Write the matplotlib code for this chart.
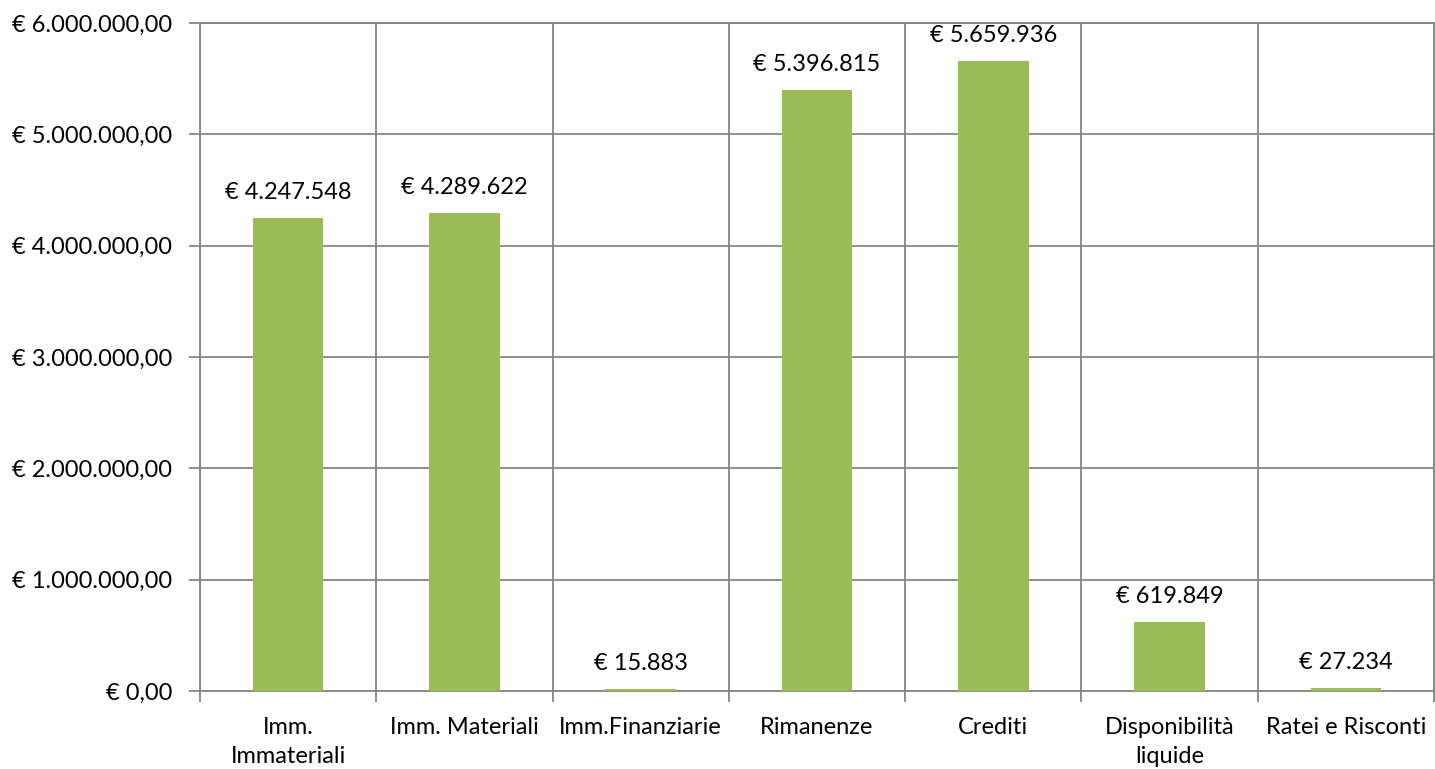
import matplotlib
matplotlib.use("Agg")
import matplotlib.pyplot as plt
from matplotlib.ticker import FuncFormatter, MultipleLocator
import numpy as np

categories = ["Imm.\nImmateriali", "Imm. Materiali", "Imm.Finanziarie", "Rimanenze",
              "Crediti", "Disponibilità\nliquide", "Ratei e Risconti"]
values = [4247548, 4289622, 15883, 5396815, 5659936, 619849, 27234]

BAR = "#9BBB59"
GRID = "#868686"

plt.rcParams['font.family'] = ['Lato', 'DejaVu Sans']

def it_fmt(v, decimals=0):
    s = f"{v:,.{decimals}f}"
    return s.replace(",", "X").replace(".", ",").replace("X", ".")

fig = plt.figure(figsize=(14.35, 7.69), dpi=100)
ax = fig.add_axes([0.1394, 0.1014, 0.8599, 0.8687])

x = np.arange(len(categories))
ax.bar(x, values, width=0.4, color=BAR, zorder=3)

for xi, v in zip(x, values):
    ax.annotate(f"€ {it_fmt(v)}", (xi, v), xytext=(0, 11), textcoords="offset points",
                ha="center", va="bottom", fontsize=17, color="black")

ax.set_xlim(-0.5, len(categories) - 0.5)
ax.set_ylim(0, 6000000)
ax.yaxis.set_major_locator(MultipleLocator(1000000))
ax.yaxis.set_major_formatter(FuncFormatter(lambda v, p: f"€ {it_fmt(v, 2)}"))

ax.set_xticks(x)
ax.set_xticklabels(categories, fontsize=17, linespacing=1.45)
ax.set_xticks(np.arange(-0.5, len(categories)), minor=True)
ax.tick_params(axis="x", which="major", length=0, pad=19)
ax.tick_params(axis="x", which="minor", length=8, color=GRID, width=1.3)
ax.tick_params(axis="y", length=8, color=GRID, width=1.3, labelsize=17, pad=12)

ax.grid(axis="y", which="major", color=GRID, linewidth=1.3, zorder=0)
ax.grid(axis="x", which="minor", color=GRID, linewidth=1.3, zorder=0)
for s in ax.spines.values():
    s.set_color(GRID)
    s.set_linewidth(1.3)

fig.savefig("out.png", dpi=100)
